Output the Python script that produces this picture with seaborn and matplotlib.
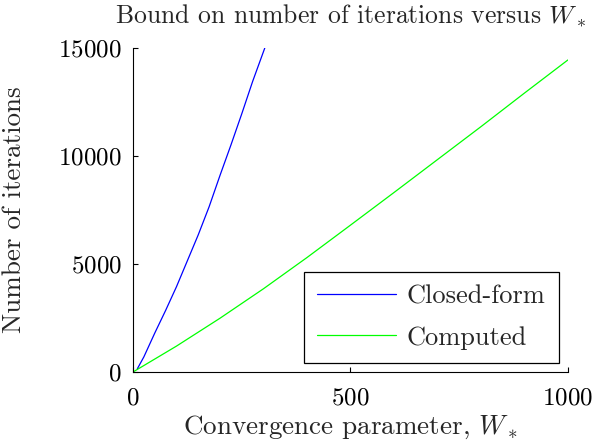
import numpy as np
import pandas as pd
import matplotlib
matplotlib.use('Agg')
import matplotlib.pyplot as plt
import seaborn as sns

# Valores
w_closed = [10, 25, 50, 75, 100, 125, 150, 175, 200, 225, 250, 275, 303]
it_closed = [150, 700, 1800, 2850, 3950, 5150, 6350, 7650, 9100, 10500, 11950, 13450, 15000]

w_comp = [0, 100, 200, 300, 400, 500, 600, 700, 800, 900, 1000]
it_comp = [0, 1200, 2490, 3855, 5300, 6800, 8310, 9835, 11360, 12915, 14450]

x_ticks = [0, 500, 1000]
y_ticks = [0, 5000, 10000, 15000]

df = pd.concat([
    pd.DataFrame({'W': w_closed, 'N': it_closed, 'Serie': 'Closed-form'}),
    pd.DataFrame({'W': w_comp, 'N': it_comp, 'Serie': 'Computed'}),
])

sns.set_style('ticks')
plt.rcParams['font.family'] = ['cmr10', 'DejaVu Serif']
plt.rcParams['mathtext.fontset'] = 'cm'
plt.rcParams['axes.formatter.use_mathtext'] = True
plt.rcParams['font.size'] = 18
plt.rcParams['axes.linewidth'] = 0.8
plt.rcParams['axes.edgecolor'] = 'black'

fig = plt.figure(figsize=(5.95, 4.45), dpi=100)
ax = fig.add_axes([0.2235, 0.164, 0.731, 0.728])

sns.lineplot(data=df, x='W', y='N', hue='Serie',
             palette={'Closed-form': '#0000ff', 'Computed': '#00ff00'},
             linewidth=0.9, ax=ax, sort=False, estimator=None)

ax.set_xlim(0, 1000)
ax.set_ylim(0, 15000)
ax.set_xticks(x_ticks)
ax.set_yticks(y_ticks)
ax.tick_params(direction='in', length=3.5, width=0.8, colors='black', labelsize=18)
ax.tick_params(axis='x', pad=11)
ax.tick_params(axis='y', pad=8)
sns.despine(ax=ax)

ax.set_title('Bound on number of iterations versus $W_*$', fontsize=18.5, pad=18)
ax.set_xlabel('Convergence parameter, $W_*$', fontsize=19.5, labelpad=3)
ax.set_ylabel('Number of iterations', fontsize=19.5)
ax.yaxis.set_label_coords(-0.245, 0.5)

leg = ax.legend(loc='lower right', fancybox=False, framealpha=1, edgecolor='black',
                handlelength=3.0, handletextpad=0.4, borderaxespad=0.35,
                borderpad=0.5, labelspacing=0.65, fontsize=19)
leg.get_frame().set_linewidth(0.9)

plt.savefig('out.png', dpi=100)
plt.close()
